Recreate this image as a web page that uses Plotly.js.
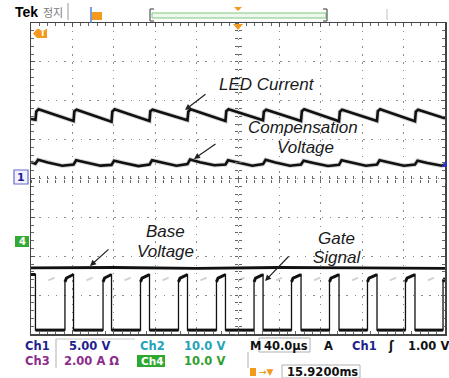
<!DOCTYPE html>
<html><head><meta charset="utf-8">
<script src="https://cdn.plot.ly/plotly-3.0.1.min.js"></script>
<style>html,body{margin:0;padding:0;background:#fff;}#chart{width:449px;height:378px;}</style>
</head><body><div id="chart"></div>
<script>
// Time base: microseconds relative to trigger (40 us/div). Vertical: screen divisions (8 div).
const gateFallUs = [-195.7, -158.9, -122.2, -85.5, -48.8, -12.1, 24.2, 60.9, 97.6, 134.3, 171.0];
const gateRiseUs = [-167.2, -130.4, -94.2, -57.5, -20.8, 15.5, 51.7, 88.4, 125.1, 161.8, 198.1];
const gateLowDiv = -3.90;
const gateHighDiv = [-2.66, -2.56, -2.47];   // at rise, just after rise, before fall
const gateHighRoundUs = 1.5;
const gateGhostUs = [12.5, 18.5];           // faint persistence dash after each fall
const gateGhostDiv = [-2.62, -2.55];

const ledStartDiv = 1.53;
const ledBeforeJumpDiv = [1.51, 1.48, 1.46, 1.48, 1.50, 1.48, 1.50, 1.48, 1.47, 1.48, 1.47];
const ledAfterJumpDiv  = [1.72, 1.73, 1.72, 1.73, 1.72, 1.73, 1.72, 1.73, 1.72, 1.73, 1.72];
const ledPeakDiv       = [1.78, 1.77, 1.78, 1.77, 1.78, 1.78, 1.77, 1.78, 1.77, 1.78, 1.77];
const ledJumpUs = 0.8, ledPeakUs = 3.0;
const ledEndDiv = 1.55;

const compStartDiv = 0.42;
const compAtEdgeDiv = [0.38, 0.36, 0.35, 0.36, 0.37, 0.36, 0.37, 0.36, 0.35, 0.36, 0.36];
const compPeakDiv   = [0.48, 0.47, 0.46, 0.47, 0.49, 0.47, 0.48, 0.46, 0.47, 0.47, 0.46];
const compMidDiv    = [0.41, 0.41, 0.40, 0.41, 0.42, 0.41, 0.41, 0.40, 0.41, 0.41, 0.40];
const compDipDiv    = [0.33, 0.33, 0.32, 0.33, 0.34, 0.33, 0.33, 0.32, 0.33, 0.33, 0.33];
const compOffsetsUs = [2.5, 12, 26];
const compEndDiv = 0.36;

const baseUs  = [-200, -120, -40, 40, 120, 200];
const baseDiv = [-2.30, -2.29, -2.31, -2.29, -2.30, -2.31];

// ---- build traces from the readings ----
const T0 = -200, T1 = 200;
let gx = [T0], gy = [gateHighDiv[2]];
let lvx = [T0], lvy = [gateHighDiv[2]];
for (let k = 0; k < gateFallUs.length; k++) {
  const f = gateFallUs[k], r = gateRiseUs[k];
  gx.push(f, f, r, r, r + gateHighRoundUs);
  gy.push(gateHighDiv[2], gateLowDiv, gateLowDiv, gateHighDiv[0], gateHighDiv[1]);
  lvx.push(f, null, f, r, null, r, r + gateHighRoundUs);
  lvy.push(gateHighDiv[2], null, gateLowDiv, gateLowDiv, null, gateHighDiv[0], gateHighDiv[1]);
}
gx.push(T1); gy.push(gateHighDiv[1]);
lvx.push(T1); lvy.push(gateHighDiv[1]);
let ghx = [], ghy = [];
for (const f of gateFallUs) { ghx.push(f + gateGhostUs[0], f + gateGhostUs[1], null); ghy.push(gateGhostDiv[0], gateGhostDiv[1], null); }

let lx = [T0], ly = [ledStartDiv];
for (let k = 0; k < gateFallUs.length; k++) {
  const f = gateFallUs[k];
  lx.push(f, f + ledJumpUs, f + ledPeakUs);
  ly.push(ledBeforeJumpDiv[k], ledAfterJumpDiv[k], ledPeakDiv[k]);
}
lx.push(T1); ly.push(ledEndDiv);

let cx = [T0], cy = [compStartDiv];
for (let k = 0; k < gateFallUs.length; k++) {
  const f = gateFallUs[k];
  cx.push(f, f + compOffsetsUs[0], f + compOffsetsUs[1], f + compOffsetsUs[2]);
  cy.push(compAtEdgeDiv[k], compPeakDiv[k], compMidDiv[k], compDipDiv[k]);
}
cx.push(T1); cy.push(compEndDiv);

const traces = [
  {x: lx, y: ly, mode: 'lines', line: {color: '#d6d6d6', width: 4.5}, hoverinfo: 'skip'},
  {x: cx, y: cy, mode: 'lines', line: {color: '#d6d6d6', width: 4.5}, hoverinfo: 'skip'},
  {x: ghx, y: ghy, mode: 'lines', line: {color: '#d2d2d2', width: 2}, hoverinfo: 'skip'},
  {x: lx, y: ly, mode: 'lines', line: {color: '#111', width: 2.6}, name: 'LED Current'},
  {x: cx, y: cy, mode: 'lines', line: {color: '#111', width: 2.6}, name: 'Compensation Voltage'},
  {x: baseUs, y: baseDiv, mode: 'lines', line: {color: '#111', width: 2.8}, name: 'Base Voltage'},
  {x: gx, y: gy, mode: 'lines', line: {color: '#111', width: 1.3}, name: 'Gate Signal'},
  {x: lvx, y: lvy, mode: 'lines', line: {color: '#111', width: 3}, hoverinfo: 'skip', connectgaps: false},
  {x: [], y: [], xaxis: 'x2', yaxis: 'y'},
  {x: [], y: [], xaxis: 'x3', yaxis: 'y'},
  {x: [], y: [], xaxis: 'x', yaxis: 'y2'},
  {x: [], y: [], xaxis: 'x', yaxis: 'y3'}
];

// ---- decoration helpers (pixel -> paper) ----
const PX = x => (x - 31) / 414, PY = y => (334 - y) / 311;
const F = 'DejaVu Sans, Verdana, sans-serif';
function txt(x, y, text, color, size, extra) {
  return Object.assign({xref: 'paper', yref: 'paper', x: PX(x), y: PY(y), text: text, showarrow: false,
    xanchor: 'left', yanchor: 'middle', font: {family: F, size: size || 11.5, color: color || '#111', weight: 'bold'}}, extra || {});
}
function itxt(x, y, text) {
  return {xref: 'paper', yref: 'paper', x: PX(x), y: PY(y), text: text, showarrow: false, xanchor: 'left', yanchor: 'middle',
    font: {family: 'Liberation Sans, Arial, sans-serif', size: 17, color: '#1a1a1a', style: 'italic'}};
}
function arrow(hx, hy, tx, ty) {
  return {xref: 'paper', yref: 'paper', x: PX(hx), y: PY(hy), ax: tx - hx, ay: ty - hy, text: '', showarrow: true,
    arrowhead: 2, arrowsize: 1, arrowwidth: 1.2, arrowcolor: '#222', standoff: 0};
}
function rect(x0, y0, x1, y1, line, fill) {
  return {type: 'rect', xref: 'paper', yref: 'paper', x0: PX(x0), x1: PX(x1), y0: PY(y0), y1: PY(y1),
    line: line || {width: 0}, fillcolor: fill || 'rgba(0,0,0,0)', layer: 'above'};
}
function seg(x0, y0, x1, y1, color, w) {
  return {type: 'line', xref: 'paper', yref: 'paper', x0: PX(x0), x1: PX(x1), y0: PY(y0), y1: PY(y1),
    line: {color: color, width: w || 1}, layer: 'above'};
}
function poly(pts, fill) {
  const d = pts.map((p, i) => (i ? 'L' : 'M') + PX(p[0]) + ',' + PY(p[1])).join(' ') + ' Z';
  return {type: 'path', xref: 'paper', yref: 'paper', path: d, fillcolor: fill, line: {width: 0}, layer: 'above'};
}

const ORANGE = '#f39a1e', NAVY = '#1f1f8f', TEAL = '#22a3b8', PURPLE = '#8c2d8c', GREEN = '#2f9e2f';

const shapes = [
  seg(68, 3, 68, 20, '#999', 1),
  seg(91, 7, 91, 23, '#4a7fd6', 1.5),
  rect(92, 12, 102, 20, {width: 0}, ORANGE),
  seg(150, 9, 150, 21, '#555', 1.2), seg(150, 9, 154, 9, '#555', 1.2), seg(150, 21, 154, 21, '#555', 1.2),
  rect(152, 13, 326, 18, {color: '#7cc97c', width: 1}, '#eef8ee'),
  seg(327, 9, 327, 21, '#555', 1.2), seg(323, 9, 327, 9, '#555', 1.2), seg(323, 21, 327, 21, '#555', 1.2),
  poly([[234, 7], [242, 7], [238, 11]], ORANGE),
  seg(387, 9, 387, 20, '#c0c0c0', 1),
  poly([[233, 24], [243, 24], [238, 30]], ORANGE),
  poly([[33, 33.5], [37, 29], [47, 29], [47, 38], [37, 38]], ORANGE),
  rect(14, 170, 28, 184, {color: '#6a6ad0', width: 1.2}, '#f2f2ff'),
  rect(15, 236, 29, 247, {width: 0}, '#35a935'),
  poly([[441, 167], [447, 167], [447, 160]], '#3030c0'),
  seg(56, 339, 56, 368, '#b0b0b0', 1), seg(56, 339, 135, 339, '#c8c8c8', 1),
  rect(259, 338, 310, 352, {color: '#b0b0b0', width: 1}),
  rect(137, 355, 165, 367, {width: 0}, '#2ea82e'),
  seg(248, 352, 248, 368, '#b0b0b0', 1),
  rect(282, 365, 360, 378, {color: '#b0b0b0', width: 1}),
  rect(250, 368, 256, 376, {width: 0}, ORANGE)
];

const annotations = [
  txt(13, 12, 'Tek', '#000', 14, {font: {family: 'Liberation Sans, Arial, sans-serif', size: 14, color: '#000', weight: 'bold'}}),
  txt(41, 12, '정지', '#777', 11, {font: {family: 'Noto Sans CJK KR', size: 11, color: '#777'}}),
  txt(37.5, 33.5, 'T', '#fff', 8, {font: {family: F, size: 8, color: '#fff', weight: 'bold'}}),
  txt(21, 177, '1', NAVY, 11, {xanchor: 'center'}),
  txt(22, 241.5, '4', '#fff', 10, {xanchor: 'center'}),
  itxt(217, 84, 'LED Current'),
  itxt(246, 128, 'Compensation'),
  itxt(275, 147, 'Voltage'),
  itxt(144, 232, 'Base'),
  itxt(135, 251, 'Voltage'),
  itxt(316, 238, 'Gate'),
  itxt(311, 257, 'Signal'),
  arrow(185, 110, 207, 93),
  arrow(194, 159, 217, 143),
  arrow(90, 266, 110, 248),
  arrow(265, 281, 290, 255),
  txt(23, 346, 'Ch1', NAVY), txt(67, 346, '5.00 V', NAVY),
  txt(138, 346, 'Ch2', TEAL), txt(182, 346, '10.0 V', TEAL),
  txt(248, 346, 'M', '#111'), txt(262, 346, '40.0µs', '#111'),
  txt(322, 346, 'A', '#111'), txt(350, 346, 'Ch1', NAVY),
  txt(386, 346, 'ʃ', '#111'), txt(406, 346, '1.00 V', '#111'),
  txt(23, 361, 'Ch3', PURPLE), txt(62, 361, '2.00 A Ω', PURPLE),
  txt(138.5, 361, 'Ch4', '#fff', 10.5), txt(182, 361, '10.0 V', GREEN),
  txt(257, 372, '→▼', ORANGE, 9),
  txt(285, 372, '15.9200ms', '#111')
];

const axBase = {showticklabels: false, zeroline: false, fixedrange: true};
const layout = {
  width: 449, height: 378,
  margin: {l: 31, r: 4, t: 23, b: 44, pad: 0},
  paper_bgcolor: '#fff', plot_bgcolor: '#fff',
  showlegend: false,
  xaxis: Object.assign({}, axBase, {range: [-200, 200], tick0: -200, dtick: 40,
    showgrid: true, gridcolor: '#8c8c8c', gridwidth: 1, griddash: '1.5px,6.3px',
    ticks: 'inside', ticklen: 4, tickcolor: '#555', tickwidth: 1,
    showline: true, mirror: 'ticks', linecolor: '#444', linewidth: 1.5,
    minor: {dtick: 8, tick0: -200, ticks: 'inside', ticklen: 3, tickcolor: '#666', showgrid: false}}),
  yaxis: Object.assign({}, axBase, {range: [-4, 4], tick0: 0, dtick: 1,
    showgrid: true, gridcolor: '#8c8c8c', gridwidth: 1, griddash: '1.5px,6.8px',
    ticks: 'inside', ticklen: 4, tickcolor: '#555', tickwidth: 1,
    showline: true, mirror: 'ticks', linecolor: '#444', linewidth: 1.5,
    minor: {dtick: 0.2, tick0: 0, ticks: 'inside', ticklen: 3, tickcolor: '#666', showgrid: false}}),
  xaxis2: Object.assign({}, axBase, {overlaying: 'x', anchor: 'free', position: 0.5, range: [-200, 200],
    tick0: 0, dtick: 8, ticks: 'outside', ticklen: 3, tickcolor: '#666', showgrid: false, showline: false}),
  xaxis3: Object.assign({}, axBase, {overlaying: 'x', anchor: 'free', position: 0.5, range: [-200, 200],
    tick0: 0, dtick: 8, ticks: 'inside', ticklen: 3, tickcolor: '#666', showgrid: false, showline: false}),
  yaxis2: Object.assign({}, axBase, {overlaying: 'y', anchor: 'free', position: 0.5, range: [-4, 4],
    tick0: 0, dtick: 0.2, ticks: 'outside', ticklen: 3, tickcolor: '#666', showgrid: false, showline: false}),
  yaxis3: Object.assign({}, axBase, {overlaying: 'y', anchor: 'free', position: 0.5, range: [-4, 4],
    tick0: 0, dtick: 0.2, ticks: 'inside', ticklen: 3, tickcolor: '#666', showgrid: false, showline: false}),
  shapes: shapes,
  annotations: annotations
};

Plotly.newPlot('chart', traces, layout, {staticPlot: true, displayModeBar: false});
</script>
</body></html>
